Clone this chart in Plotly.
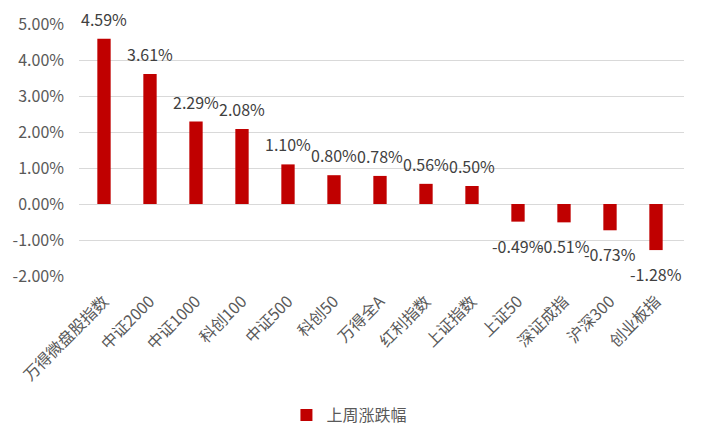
import plotly.graph_objects as go

categories = ["万得微盘股指数", "中证2000", "中证1000", "科创100", "中证500", "科创50",
              "万得全A", "红利指数", "上证指数", "上证50", "深证成指", "沪深300", "创业板指"]
values = [4.59, 3.61, 2.29, 2.08, 1.10, 0.80, 0.78, 0.56, 0.50, -0.49, -0.51, -0.73, -1.28]
series_name = "上周涨跌幅"
y_ticks = [-2, -1, 0, 1, 2, 3, 4, 5]

font_family = "Noto Sans CJK SC, Microsoft YaHei, sans-serif"

fig = go.Figure()
fig.add_trace(go.Bar(
    x=categories, y=values, name=series_name,
    marker=dict(color="#c00000", line=dict(width=0)),
    width=0.29,
    cliponaxis=False,
    hoverinfo="skip",
))

for c, v in zip(categories, values):
    fig.add_annotation(
        x=c, y=v, text=f"{v:.2f}%", showarrow=False,
        xanchor="center", yanchor="middle",
        yshift=20 if v >= 0 else -24,
        font=dict(size=16, color="#404040", family=font_family),
    )

fig.update_layout(
    width=706, height=427,
    margin=dict(l=79, r=22, t=24, b=151, autoexpand=False),
    paper_bgcolor="white", plot_bgcolor="white",
    font=dict(family=font_family, size=16, color="#595959"),
    showlegend=True,
    legend=dict(orientation="h", x=0.447, xanchor="center",
                yref="container", y=(427 - 415) / 427, yanchor="middle",
                itemwidth=30,
                font=dict(size=16, color="#595959")),
)
fig.update_yaxes(
    range=[-2, 5], tickvals=y_ticks, ticktext=[f"{v:.2f}%" for v in y_ticks],
    showgrid=True, gridcolor="#d9d9d9", gridwidth=1,
    zeroline=True, zerolinecolor="#d9d9d9", zerolinewidth=1,
    showline=False, ticks="", tickfont=dict(size=16, color="#595959"),
    ticklabelstandoff=14, automargin=False,
)
fig.update_xaxes(
    tickangle=-45, showline=False, ticks="", showgrid=False,
    tickfont=dict(size=16, color="#595959"), ticklabelstandoff=12,
    automargin=False,
)

fig.write_html(
    "out.html",
    config={"displayModeBar": False},
    post_script="document.body.style.margin='0';document.body.style.padding='0';",
)
